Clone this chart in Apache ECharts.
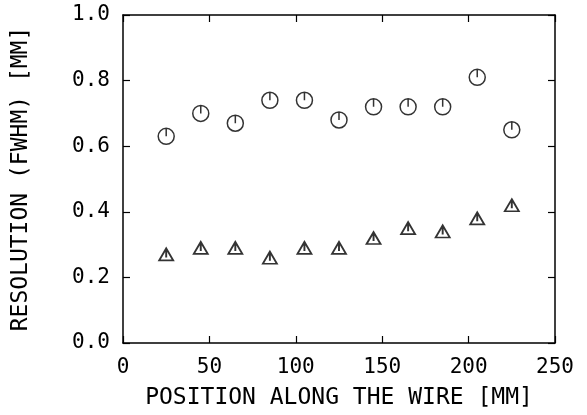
<!DOCTYPE html>
<html lang="en">
<head>
  <meta charset="UTF-8">
  <title>Resolution along the wire</title>
  <script src="https://cdn.jsdelivr.net/npm/echarts@6/dist/echarts.min.js"></script>
  <style>
    html, body { margin: 0; padding: 0; background: #fff; }
  </style>
</head>
<body>
  <div id="chart" style="width: 587px; height: 415px"></div>
  <script>
    // data
    const positions = [25, 45, 65, 85, 105, 125, 145, 165, 185, 205, 225]
    const circleRes = [0.63, 0.70, 0.67, 0.74, 0.74, 0.68, 0.72, 0.72, 0.72, 0.81, 0.65]
    const triangleRes = [0.27, 0.29, 0.29, 0.26, 0.29, 0.29, 0.32, 0.35, 0.34, 0.38, 0.42]

    const FONT = 'DejaVu Sans Mono'
    // open circle / triangle with a short vertical stroke inside
    const circleSym = 'path://M8,0 A8,8 0 1,1 8,16 A8,8 0 1,1 8,0 Z M8,0 L8,8'
    const triSym = 'path://M7,0 L14,12 L0,12 Z M7,0 L7,9'

    const myChart = echarts.init(document.getElementById('chart'))

    const axisLine = { show: true, onZero: false, lineStyle: { color: '#000', width: 1.5 } }
    const axisTick = { show: true, inside: true, length: 7, lineStyle: { color: '#000', width: 1.2 } }
    const hideEnds = v => (v === 0 || v === 250 || v === 1 ? '' : v)

    const option = {
      animation: false,
      backgroundColor: '#fff',
      grid: { left: 123, right: 32, top: 15, bottom: 72 },
      xAxis: [
        {
          type: 'value', min: 0, max: 250, interval: 50,
          position: 'bottom',
          name: 'POSITION ALONG THE WIRE [MM]',
          nameLocation: 'middle', nameGap: 44,
          nameTextStyle: { fontFamily: FONT, fontSize: 23, color: '#000' },
          axisLine: axisLine, axisTick: axisTick,
          axisLabel: { fontFamily: FONT, fontSize: 21, color: '#000', margin: 14 },
          splitLine: { show: false }
        },
        {
          type: 'value', min: 0, max: 250, interval: 50,
          position: 'top',
          axisLine: axisLine, axisTick: axisTick,
          axisLabel: { show: false }, splitLine: { show: false }
        }
      ],
      yAxis: [
        {
          type: 'value', min: 0, max: 1, interval: 0.2,
          position: 'left',
          name: 'RESOLUTION (FWHM) [MM]',
          nameLocation: 'middle', nameGap: 90,
          nameTextStyle: { fontFamily: FONT, fontSize: 23, color: '#000' },
          axisLine: axisLine, axisTick: axisTick,
          axisLabel: { fontFamily: FONT, fontSize: 21, color: '#000', margin: 13, formatter: v => v.toFixed(1) },
          splitLine: { show: false }
        },
        {
          type: 'value', min: 0, max: 1, interval: 0.2,
          position: 'right',
          axisLine: axisLine, axisTick: axisTick,
          axisLabel: { show: false }, splitLine: { show: false }
        }
      ],
      series: [
        {
          name: 'circles',
          type: 'scatter',
          symbol: circleSym,
          symbolSize: [16, 16],
          data: positions.map((x, i) => [x, circleRes[i]]),
          itemStyle: { color: 'transparent', borderColor: '#000', borderWidth: 1.5 }
        },
        {
          name: 'triangles',
          type: 'scatter',
          symbol: triSym,
          symbolSize: [14, 12],
          data: positions.map((x, i) => [x, triangleRes[i]]),
          itemStyle: { color: 'transparent', borderColor: '#000', borderWidth: 1.8 }
        }
      ]
    }
    myChart.setOption(option)
  </script>
</body>
</html>
